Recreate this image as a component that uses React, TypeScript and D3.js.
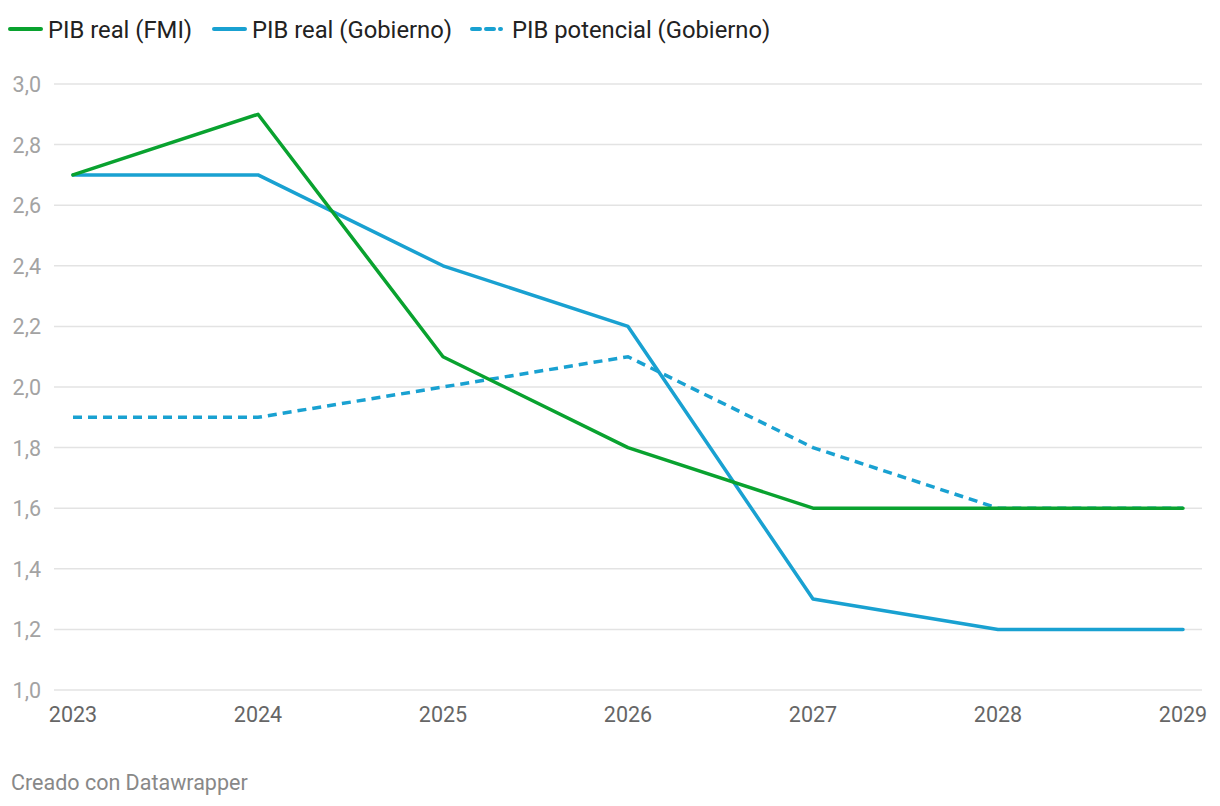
import React from "react";
import * as d3 from "d3";

const years = [2023, 2024, 2025, 2026, 2027, 2028, 2029];
const pibRealFMI = [2.7, 2.9, 2.1, 1.8, 1.6, 1.6, 1.6];
const pibRealGobierno = [2.7, 2.7, 2.4, 2.2, 1.3, 1.2, 1.2];
const pibPotencialGobierno = [1.9, 1.9, 2.0, 2.1, 1.8, 1.6, 1.6];
const yTicks = [1.0, 1.2, 1.4, 1.6, 1.8, 2.0, 2.2, 2.4, 2.6, 2.8, 3.0];

const seriesNames = ["PIB real (FMI)", "PIB real (Gobierno)", "PIB potencial (Gobierno)"];

const GREEN = "#09a22f";
const BLUE = "#19a1d1";

export default function App() {
  const W = 1220, H = 806;
  const x = d3.scaleLinear().domain([2023, 2029]).range([73, 1183]);
  const y = d3.scaleLinear().domain([1, 3]).range([690, 84]);
  const line = d3.line<number>().x((_, i) => x(years[i])).y((d) => y(d));
  const fmt = (v: number) => v.toFixed(1).replace(".", ",");
  const font = "Roboto, sans-serif";

  const legend = [
    { name: seriesNames[0], color: GREEN, dash: "none", x0: 10, x1: 41, tx: 48 },
    { name: seriesNames[1], color: BLUE, dash: "none", x0: 214, x1: 245, tx: 252 },
    { name: seriesNames[2], color: BLUE, dash: "8,6", x0: 472, x1: 501, tx: 512 },
  ];

  return (
    <svg width={W} height={H} style={{ position: "absolute", left: 0, top: 0, background: "#fff" }} fontFamily={font}>
      {legend.map((l) => (
        <g key={l.name}>
          <line x1={l.x0} x2={l.x1} y1={29} y2={29} stroke={l.color} strokeWidth={4} strokeDasharray={l.dash} strokeLinecap="round" />
          <text x={l.tx} y={38} fontSize={23.8} fill="#222">{l.name}</text>
        </g>
      ))}
      {yTicks.map((t) => (
        <g key={t}>
          <line x1={54} x2={1202} y1={y(t)} y2={y(t)} stroke="#e3e3e3" strokeWidth={1.5} />
          <text x={41} y={y(t) + 8} fontSize={21.5} fill="#a3a3a3" textAnchor="end">{fmt(t)}</text>
        </g>
      ))}
      {years.map((yr) => (
        <text key={yr} x={x(yr)} y={722} fontSize={21.5} fill="#666" textAnchor="middle">{yr}</text>
      ))}
      <path d={line(pibPotencialGobierno) || ""} fill="none" stroke={BLUE} strokeWidth={3.5} strokeDasharray="9,6" />
      <path d={line(pibRealGobierno) || ""} fill="none" stroke={BLUE} strokeWidth={3.5} strokeLinejoin="round" strokeLinecap="round" />
      <path d={line(pibRealFMI) || ""} fill="none" stroke={GREEN} strokeWidth={3.5} strokeLinejoin="round" strokeLinecap="round" />
      <text x={11} y={790} fontSize={21.5} fill="#888">Creado con Datawrapper</text>
    </svg>
  );
}
